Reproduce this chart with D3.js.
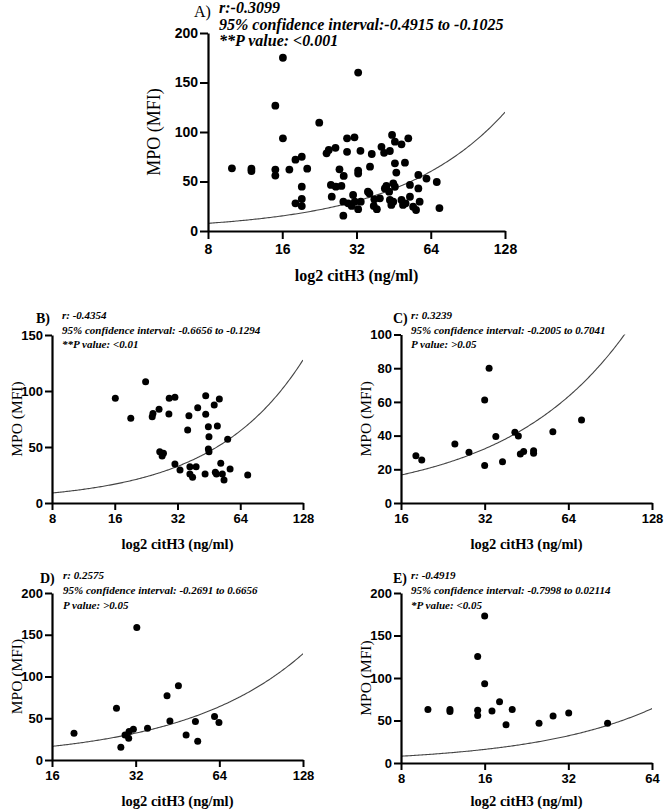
<!DOCTYPE html>
<html>
<head>
<meta charset="utf-8">
<script src="https://cdn.jsdelivr.net/npm/d3@7"></script>
<style>
html,body{margin:0;padding:0;background:#fff;}
svg{display:block;}
</style>
</head>
<body>
<svg id="chart" width="664" height="810"></svg>
<script>
// ---------- DATA ----------
const dataA = [[10.0,63.3],[12.0,63],[12.0,60.5],[15.0,62],[15.0,56],[16.1,175],[15.0,126.6],[16.1,93.6],[17.1,62],[18.1,72],[19.2,75],[20.2,63],[19.2,44.8],[18.1,28],[19.2,32.3],[19.2,25.2],[22.6,109.4],[24.2,78.5],[24.7,81.8],[26.3,84],[29.3,93.6],[31.4,94.6],[29.3,80],[33.2,81],[36.9,77.8],[36.3,65],[32.5,61],[32.5,58],[32.5,160],[27.3,62.3],[28.4,55.6],[25.2,46.5],[26.4,44.8],[27.8,45.5],[25.4,34.7],[28.3,29.6],[29.6,28],[31.0,36.4],[31.5,29.6],[30.6,25.3],[32.5,22],[33.3,29.6],[28.3,15.5],[35.6,39.7],[36.1,38],[37.8,32],[37.6,25.3],[38.7,22],[39.8,33],[40.4,85],[41.4,79],[43.7,80.8],[44.6,97],[45.8,90.2],[48.7,87.6],[51.9,93.6],[45.8,68.4],[50.3,69],[46.4,59],[41.7,43],[42.3,45.5],[43.4,39.7],[45.1,48.2],[45.8,44.7],[43.7,31.3],[44.3,26.3],[45.1,29.6],[48.7,31.3],[49.4,26.3],[50.6,28],[52.7,46.5],[57,43],[57,56.6],[52.7,34.6],[54.3,24.5],[55.8,21.2],[57.7,29.6],[61.5,53],[67.7,49.5],[69.4,23.2]];
const dataB = [[16.1,93.5],[19.1,75.6],[22.5,108.3],[24.2,77],[24.4,80],[26.1,83.7],[29.1,79.5],[29.2,93.5],[31.1,94.4],[35.8,65.2],[36.3,78],[40,85],[43.7,95.8],[43.7,79.2],[45,68],[45.3,59.2],[48,87.5],[50.8,92.9],[49.7,68.8],[55.7,57],[45,48.2],[45.3,45.8],[26.3,45.8],[27.4,44.4],[27,42],[31.1,34.8],[32.9,29.5],[36.7,32.4],[39.3,32.4],[36.7,25.9],[37.8,23],[43.4,25.9],[48.6,27.4],[49.2,25.9],[51.6,35.4],[52.5,25.9],[53.5,20.5],[57.2,30.4],[69.5,25]];
const dataC = [[18.1,28.1],[19.0,25.5],[25.0,35],[28.1,30.1],[32.0,61.2],[33.2,80],[32.0,22.2],[35.1,39.4],[37.1,24.5],[41.1,42],[42.3,39.8],[43.0,29.1],[44.2,30.5],[48.0,31],[48.0,29.5],[56.3,42.3],[71.4,49.3]];
const dataD = [[19.2,32],[32.3,158.6],[27.3,62],[41.5,77],[45.6,89],[42.5,46.8],[52.5,46],[61.5,52],[63.8,44.8],[48.6,30],[35.3,38],[28.3,15.2],[29.3,30],[30.3,34],[31.4,36.8],[30.2,26],[53.5,22.4]];
const dataE = [[10.0,62.8],[12.0,62.8],[12.0,60.7],[15.1,62],[15.1,56],[15.1,125.2],[16.0,172.9],[16.0,93.2],[17.0,61.2],[18.1,72],[19.1,45.1],[20.1,62.8],[25.1,46.8],[28.2,55.2],[32.1,58.8],[44.3,46.8]];

const xTicksA = [8,16,32,64,128];
const xTicksB = [8,16,32,64,128];
const xTicksC = [16,32,64,128];
const xTicksD = [16,32,64,128];
const xTicksE = [8,16,32,64];
const yTicksA = [0,50,100,150,200];
const yTicksB = [0,50,100,150];
const yTicksC = [0,20,40,60,80,100];
const yTicksD = [0,50,100,150,200];
const yTicksE = [0,50,100,150,200];

const panelLabels = ["A)","B)","C)","D)","E)"];
const statsA = ["r:-0.3099","95% confidence interval:-0.4915 to -0.1025","**P value: <0.001"];
const statsB = ["r: -0.4354","95% confidence interval: -0.6656 to -0.1294","**P value: <0.01"];
const statsC = ["r: 0.3239","95% confidence interval: -0.2005 to 0.7041","P value: >0.05"];
const statsD = ["r: 0.2575","95% confidence interval: -0.2691 to 0.6656","P value: >0.05"];
const statsE = ["r: -0.4919","95% confidence interval: -0.7998 to 0.02114","*P value: <0.05"];

// fitted line drawn in each panel: [slope, intercept]
const fitA = [0.935, 0.3];
const fitB = [0.99, 1.0];
const fitC = [0.97, 1.1];
const fitD = [0.99, 0.5];
const fitE = [1.0, 0.0];

const xTitle = "log2 citH3 (ng/ml)";
const yTitle = "MPO (MFI)";

// ---------- LAYOUT ----------
const panels = [
  {data:dataA, xt:xTicksA, yt:yTicksA, stats:statsA, label:panelLabels[0], fit:fitA,
   l:208, r:505, t:33, b:231, big:true,
   tickFont:14, ytitleSize:18, xtitleSize:16, ytitleX:160, xtitleY:281,
   labelX:194, labelY:17, labelBold:false, labelSize:16,
   statX:219, statY:[13,29.5,46], statSize:16, rad:3.9},
  {data:dataB, xt:xTicksB, yt:yTicksB, stats:statsB, label:panelLabels[1], fit:fitB,
   l:52, r:303, t:335, b:503,
   tickFont:13, ytitleSize:15.5, xtitleSize:14.5, ytitleX:22, xtitleY:549,
   labelX:36, labelY:323, labelBold:true, labelSize:14,
   statX:62, statY:[318.5,333.5,348], statSize:11, rad:3.5},
  {data:dataC, xt:xTicksC, yt:yTicksC, stats:statsC, label:panelLabels[2], fit:fitC,
   l:401, r:652, t:334.5, b:503,
   tickFont:13, ytitleSize:15.5, xtitleSize:14.5, ytitleX:371, xtitleY:549,
   labelX:393, labelY:323, labelBold:true, labelSize:14,
   statX:411, statY:[318.5,333.5,348], statSize:11, rad:3.5},
  {data:dataD, xt:xTicksD, yt:yTicksD, stats:statsD, label:panelLabels[3], fit:fitD,
   l:52, r:303, t:593, b:760,
   tickFont:13, ytitleSize:15.5, xtitleSize:14.5, ytitleX:22, xtitleY:806,
   labelX:40, labelY:583, labelBold:true, labelSize:14,
   statX:63, statY:[579,594,608.5], statSize:11, rad:3.5},
  {data:dataE, xt:xTicksE, yt:yTicksE, stats:statsE, label:panelLabels[4], fit:fitE,
   l:401, r:652, t:593, b:763,
   tickFont:13, ytitleSize:15.5, xtitleSize:14.5, ytitleX:371, xtitleY:806,
   labelX:393, labelY:583, labelBold:true, labelSize:14,
   statX:411, statY:[579,594,608.5], statSize:11, rad:3.5}
];

const svg = d3.select("#chart");
const SANS = "'Liberation Sans', Arial, sans-serif";
const SERIF = "'Liberation Serif', 'Times New Roman', serif";

panels.forEach((p, i) => {
  const xmin = p.xt[0], xmax = p.xt[p.xt.length-1];
  const ymax = p.yt[p.yt.length-1];
  const x = d3.scaleLog().base(2).domain([xmin, xmax]).range([p.l, p.r]);
  const y = d3.scaleLinear().domain([0, ymax]).range([p.b, p.t]);
  const g = svg.append("g");
  const tickLen = p.big ? 8 : 7;

  const clipId = "clip" + i;
  svg.append("clipPath").attr("id", clipId).append("rect")
    .attr("x", p.l).attr("y", p.t).attr("width", p.r - p.l).attr("height", p.b - p.t);

  // fitted curve (straight line in linear space, curved on log2 x axis)
  const xs = d3.range(0, 201).map(k => xmin * Math.pow(xmax / xmin, k / 200));
  const line = d3.line().x(d => x(d)).y(d => y(p.fit[0] * d + p.fit[1]));
  g.append("path").datum(xs).attr("d", line)
    .attr("fill", "none").attr("stroke", "#444").attr("stroke-width", 1.1)
    .attr("clip-path", `url(#${clipId})`);

  g.selectAll("circle.pt").data(p.data).join("circle")
    .attr("class", "pt")
    .attr("cx", d => x(d[0])).attr("cy", d => y(d[1])).attr("r", p.rad)
    .attr("fill", "#000");

  const xAxis = d3.axisBottom(x).tickValues(p.xt).tickFormat(d3.format("d"))
    .tickSizeOuter(0).tickSizeInner(tickLen).tickPadding(p.big ? 5 : 4);
  const yAxis = d3.axisLeft(y).tickValues(p.yt).tickFormat(d3.format("d"))
    .tickSizeOuter(0).tickSizeInner(tickLen).tickPadding(2);

  const gx = g.append("g").attr("transform", `translate(0,${p.b})`).call(xAxis);
  const gy = g.append("g").attr("transform", `translate(${p.l},0)`).call(yAxis);
  [gx, gy].forEach(ax => {
    ax.select(".domain").attr("stroke", "#000").attr("stroke-width", 2.2);
    ax.selectAll(".tick line").attr("stroke", "#000").attr("stroke-width", 2);
    ax.selectAll(".tick text").attr("fill", "#000")
      .style("font-family", SANS).style("font-weight", "bold").style("font-size", p.tickFont + "px");
  });

  g.append("text")
    .attr("x", (p.l + p.r) / 2).attr("y", p.xtitleY)
    .attr("text-anchor", "middle")
    .style("font-family", SERIF).style("font-weight", "bold").style("font-size", p.xtitleSize + "px")
    .text(xTitle);
  g.append("text")
    .attr("transform", `translate(${p.ytitleX},${(p.t + p.b) / 2}) rotate(-90)`)
    .attr("text-anchor", "middle")
    .style("font-family", SERIF).style("font-size", p.ytitleSize + "px")
    .text(yTitle);

  g.append("text")
    .attr("x", p.labelX).attr("y", p.labelY)
    .style("font-family", SERIF).style("font-weight", p.labelBold ? "bold" : "normal")
    .style("font-size", p.labelSize + "px")
    .text(p.label);

  g.selectAll("text.stat").data(p.stats).join("text")
    .attr("class", "stat")
    .attr("x", p.statX).attr("y", (d, k) => p.statY[k])
    .style("font-family", SERIF).style("font-weight", "bold").style("font-style", "italic")
    .style("font-size", p.statSize + "px")
    .text(d => d);
});
</script>
</body>
</html>
